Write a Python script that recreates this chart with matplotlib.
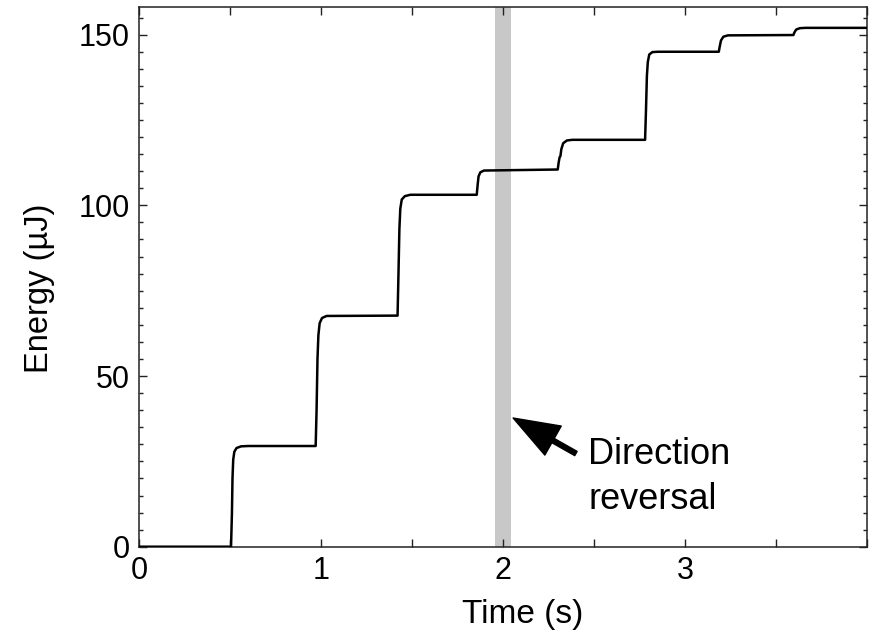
import matplotlib
matplotlib.use("Agg")
import matplotlib.pyplot as plt
from matplotlib.ticker import MultipleLocator, FixedLocator, FuncFormatter

plt.rcParams['font.family'] = ['Liberation Sans', 'DejaVu Sans']

# cumulative energy trace (s, uJ)
time = [0.0, 0.505, 0.510, 0.513, 0.517, 0.523, 0.535, 0.56, 0.60,
        0.97, 0.975, 0.98, 0.985, 0.992, 1.005, 1.03,
        1.42, 1.425, 1.43, 1.435, 1.443, 1.46, 1.49,
        1.855, 1.86, 1.865, 1.875, 1.895,
        2.300, 2.305, 2.31, 2.315, 2.32, 2.33, 2.35, 2.38,
        2.78, 2.785, 2.79, 2.795, 2.803, 2.82, 2.85,
        3.185, 3.19, 3.197, 3.21, 3.235,
        3.595, 3.60, 3.61, 3.63, 3.66, 4.0]
energy = [0.0, 0.0, 10.0, 20.0, 25.5, 27.8, 28.9, 29.4, 29.5,
          29.5, 40.0, 55.0, 62.0, 65.5, 67.0, 67.6,
          67.7, 80.0, 93.0, 99.0, 101.7, 102.7, 103.1,
          103.1, 106.0, 108.5, 109.7, 110.2,
          110.5, 112.5, 114.0, 114.5, 116.5, 118.2, 119.0, 119.2,
          119.2, 128.0, 138.0, 142.0, 144.2, 144.9, 145.0,
          145.0, 146.5, 148.3, 149.4, 149.8,
          149.9, 150.6, 151.5, 151.9, 152.0, 152.0]

reversal_start, reversal_end = 1.955, 2.045
x_labels = [0, 1, 2, 3]
y_labels = [0, 50, 100, 150]

fig = plt.figure(figsize=(8.75, 6.36), dpi=100)
ax = fig.add_axes([0.159, 0.1404, 0.832, 0.848])

ax.axvspan(reversal_start, reversal_end, color='#c8c8c8', lw=0, zorder=1)
ax.plot(time, energy, color='k', lw=1.8, zorder=3)

ax.set_xlim(0, 4)
ax.set_ylim(0, 158)

ax.xaxis.set_major_locator(MultipleLocator(0.5))
ax.xaxis.set_major_formatter(FuncFormatter(
    lambda v, p: f"{int(v)}" if v in x_labels else ""))
ax.yaxis.set_major_locator(FixedLocator(y_labels))
ax.yaxis.set_minor_locator(MultipleLocator(5))

ax.tick_params(which='both', direction='in', top=True, right=True,
               labelsize=22, width=1.0, color='#222222')
ax.tick_params(which='major', length=5.5, pad=7)
ax.tick_params(which='minor', length=3)
for s in ax.spines.values():
    s.set_linewidth(1.1)
    s.set_color('#222222')

ax.set_xlabel('Time (s)', fontsize=24, labelpad=9)
ax.set_ylabel('Energy (µJ)', fontsize=23.5, labelpad=17)
ax.xaxis.label.set_x(0.527)
ax.yaxis.label.set_y(0.48)

ax.annotate('', xy=(2.055, 37.7), xytext=(2.40, 27.3),
            arrowprops=dict(facecolor='k', edgecolor='k', width=3.5,
                            headwidth=24, headlength=33, shrink=0))
ax.text(2.467, 20.5, 'Direction\nreversal', fontsize=26, va='center',
        ha='left', linespacing=1.36)

fig.savefig('out.png', dpi=100)
